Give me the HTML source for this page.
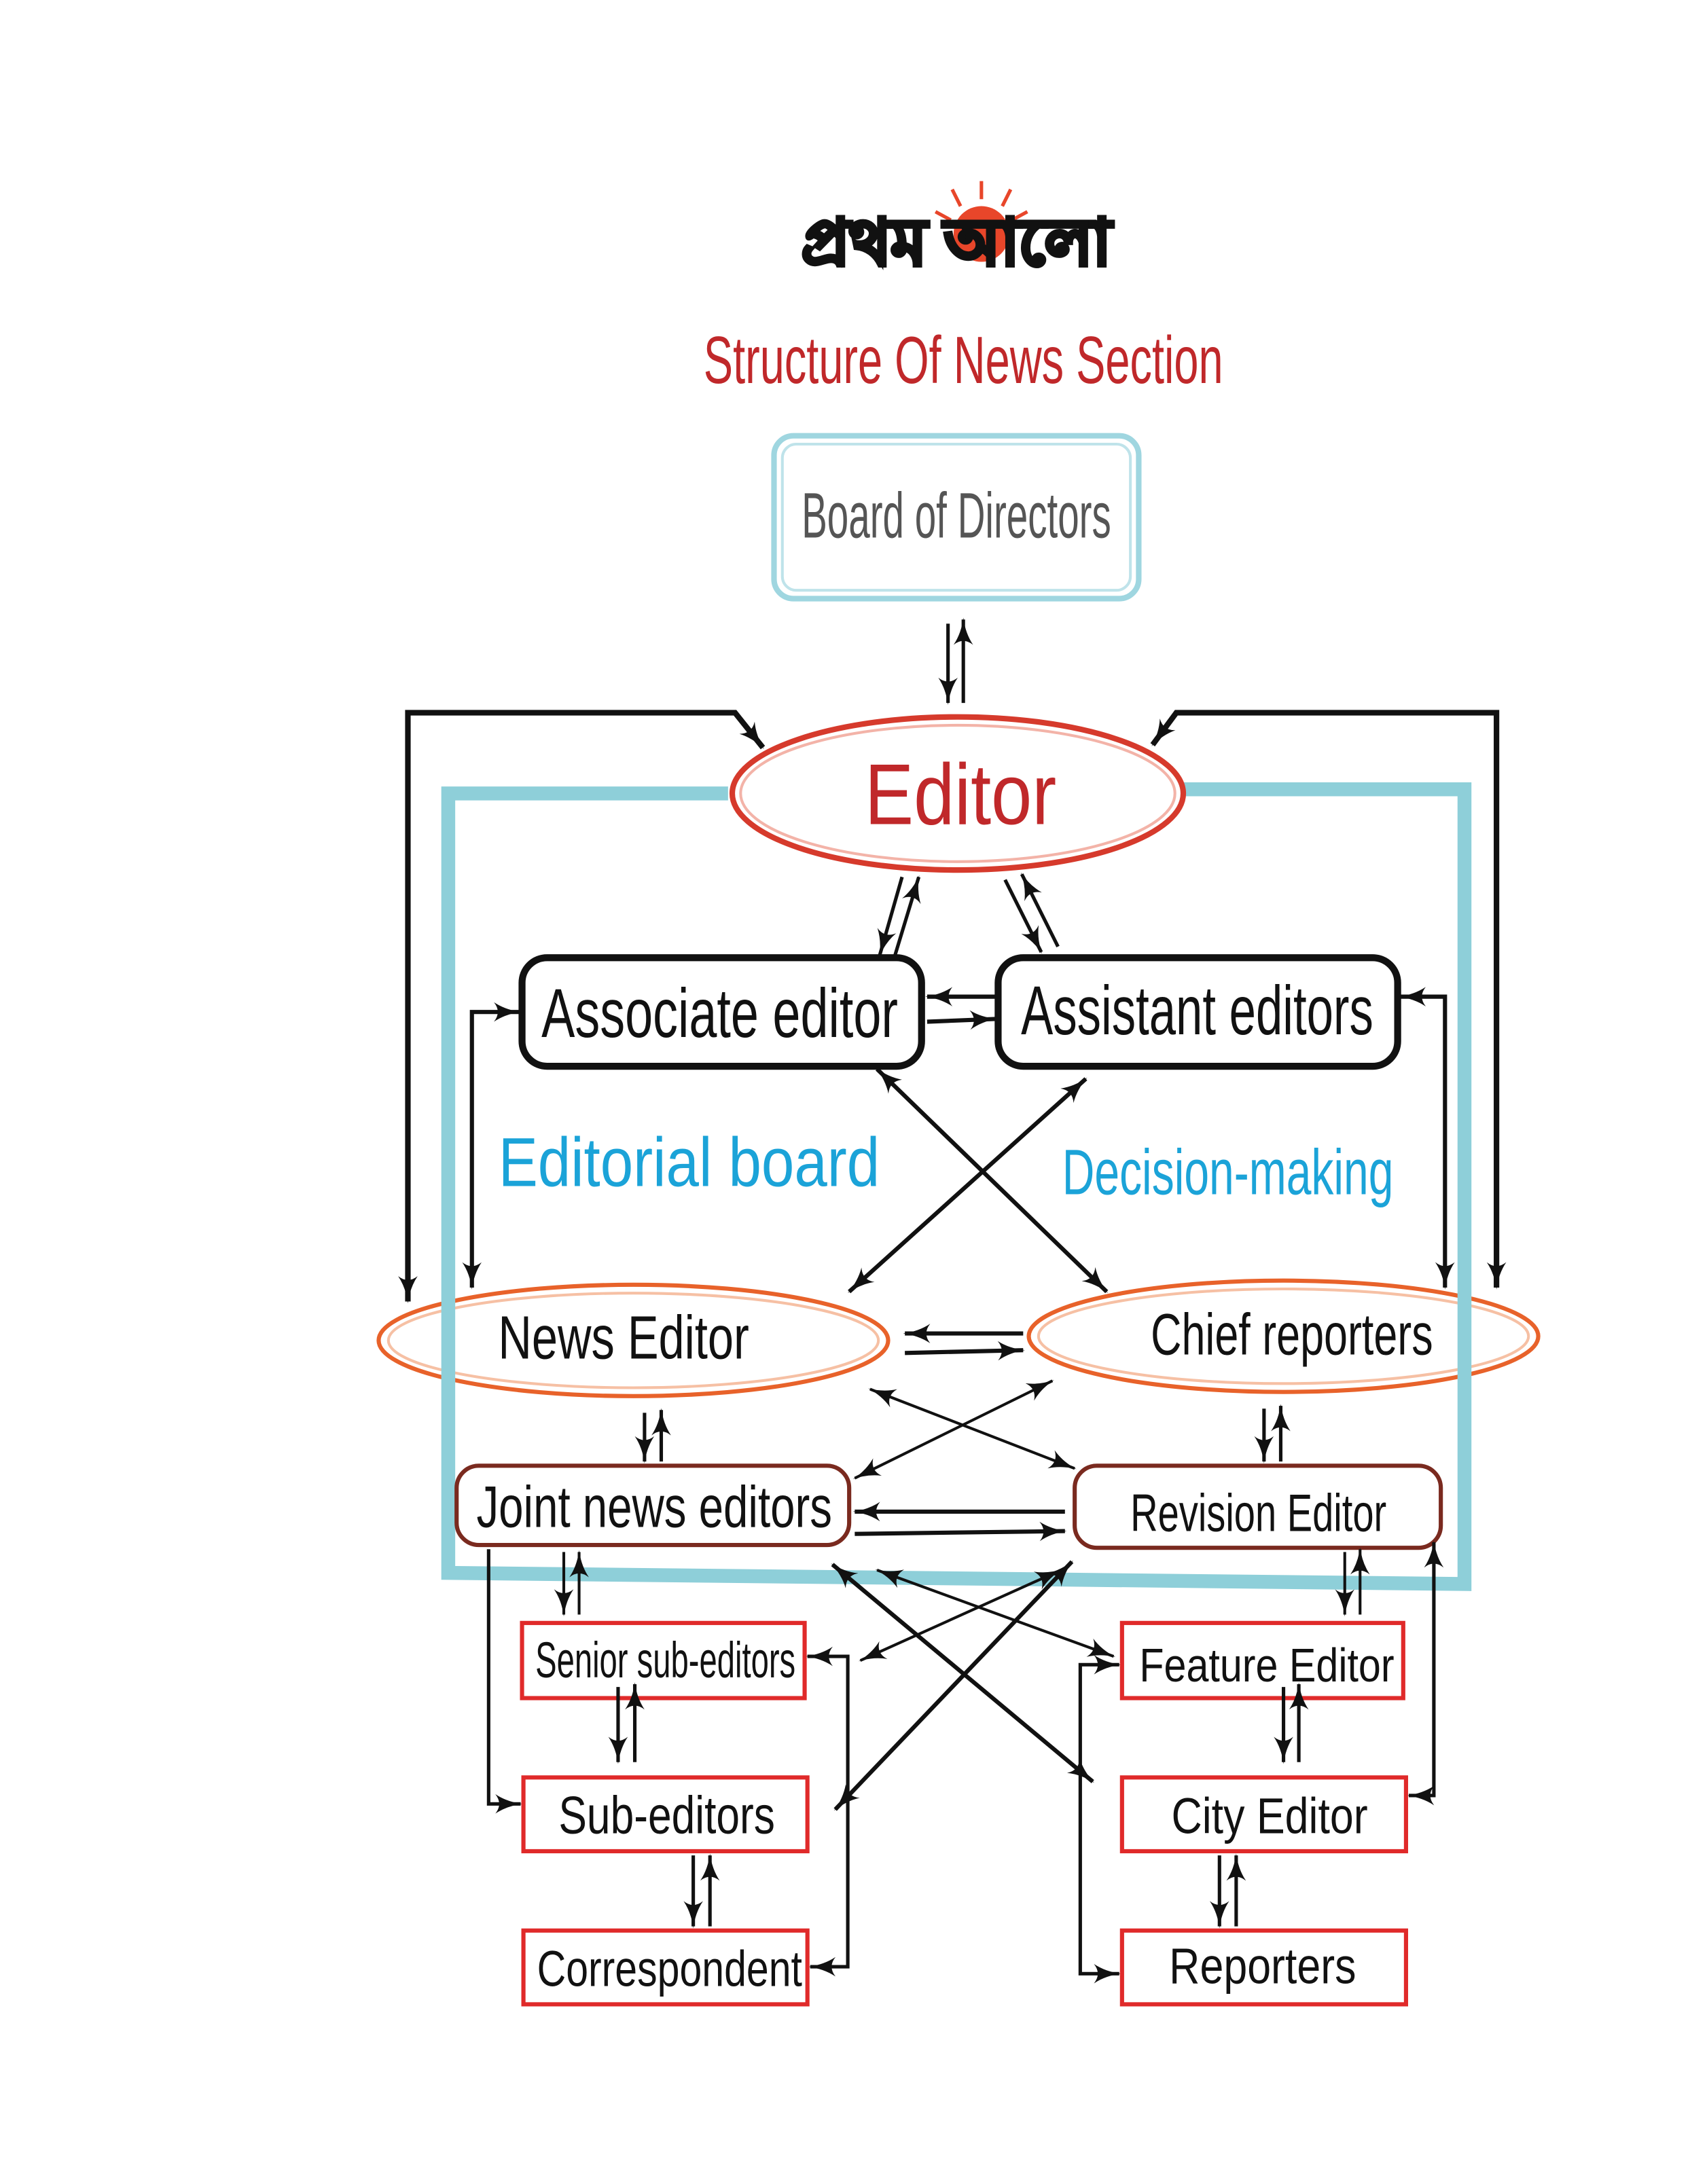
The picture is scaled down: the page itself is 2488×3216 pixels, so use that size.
<!DOCTYPE html>
<html><head><meta charset="utf-8"><style>
html,body{margin:0;padding:0;background:#fff}
svg{display:block}
text{font-family:"Liberation Sans",sans-serif}
</style></head><body>
<svg width="2488" height="3216" viewBox="0 0 1214 1569" xmlns="http://www.w3.org/2000/svg">
<defs>
<marker id="a" viewBox="0 0 14 10" refX="13" refY="5" markerWidth="20" markerHeight="14" orient="auto-start-reverse" markerUnits="userSpaceOnUse">
<path d="M0,0 Q6,4 14,5 Q6,6 0,10 Q4,5 0,0 z" fill="#111"/>
</marker>
</defs>
<rect width="1214" height="1569" fill="#fff"/>
<!-- logo -->
<circle cx="705" cy="168" r="20" fill="#e8462a"/>
<g stroke="#e8462a" stroke-width="2.5">
<line x1="705" y1="143" x2="705" y2="130"/><line x1="690" y1="148" x2="684" y2="136"/><line x1="720" y1="148" x2="726" y2="136"/><line x1="683" y1="158" x2="672" y2="152"/><line x1="727" y1="158" x2="738" y2="152"/>
</g>
<text x="687" y="190" font-size="46" font-weight="bold" fill="#111" stroke="#111" stroke-width="3" text-anchor="middle" font-family="'Liberation Sans','Noto Sans CJK SC',sans-serif">প্রথম আলো</text>
<!-- title -->
<text x="692" y="275" font-size="48" fill="#c0282a" text-anchor="middle" transform="translate(692,0) scale(0.66,1) translate(-692,0)">Structure Of News Section</text>
<!-- board -->
<rect x="556" y="313" width="262" height="117" rx="14" fill="#fff" stroke="#9fd6e0" stroke-width="4"/>
<rect x="562" y="319" width="250" height="105" rx="10" fill="none" stroke="#bfe3ea" stroke-width="2"/>
<text x="687" y="386" font-size="46" fill="#555" text-anchor="middle" transform="translate(687,0) scale(0.6,1) translate(-687,0)">Board of Directors</text>
<!-- board-editor arrows -->
<line x1="681" y1="448" x2="681" y2="505" stroke="#111" stroke-width="2.5" marker-end="url(#a)"/>
<line x1="692" y1="505" x2="692" y2="445" stroke="#111" stroke-width="2.5" marker-end="url(#a)"/>
<!-- outer black loops -->
<polyline points="548,537 528,512 293,512 293,935" fill="none" stroke="#111" stroke-width="4" marker-end="url(#a)" marker-start="url(#a)"/>
<polyline points="1075,925 1075,512 845,512 828,535" fill="none" stroke="#111" stroke-width="4" marker-end="url(#a)" marker-start="url(#a)"/>
<!-- editor to associate/assistant -->
<line x1="648" y1="630" x2="632" y2="686" stroke="#111" stroke-width="2.5" marker-end="url(#a)"/>
<line x1="643" y1="686" x2="660" y2="630" stroke="#111" stroke-width="2.5" marker-end="url(#a)"/>
<line x1="722" y1="632" x2="748" y2="684" stroke="#111" stroke-width="2.5" marker-end="url(#a)"/>
<line x1="760" y1="680" x2="734" y2="628" stroke="#111" stroke-width="2.5" marker-end="url(#a)"/>
<!-- associate & assistant -->
<rect x="375" y="688" width="287" height="78" rx="18" fill="#fff" stroke="#111" stroke-width="5"/>
<text x="517" y="745" font-size="50" fill="#111" text-anchor="middle" transform="translate(517,0) scale(0.72,1) translate(-517,0)">Associate editor</text>
<rect x="717" y="688" width="287" height="78" rx="18" fill="#fff" stroke="#111" stroke-width="5"/>
<text x="860" y="743" font-size="50" fill="#111" text-anchor="middle" transform="translate(860,0) scale(0.69,1) translate(-860,0)">Assistant editors</text>
<line x1="715" y1="716" x2="666" y2="716" stroke="#111" stroke-width="3" marker-end="url(#a)"/>
<line x1="666" y1="734" x2="715" y2="732" stroke="#111" stroke-width="3" marker-end="url(#a)"/>
<!-- side verticals -->
<polyline points="339,925 339,727 373,727" fill="none" stroke="#111" stroke-width="3" marker-end="url(#a)" marker-start="url(#a)"/>
<polyline points="1038,925 1038,716 1006,716" fill="none" stroke="#111" stroke-width="3" marker-end="url(#a)" marker-start="url(#a)"/>
<!-- labels -->
<text x="495" y="852" font-size="50" fill="#1ba3d8" text-anchor="middle" transform="translate(495,0) scale(0.85,1) translate(-495,0)">Editorial board</text>
<text x="882" y="858" font-size="46" fill="#1ba3d8" text-anchor="middle" transform="translate(882,0) scale(0.7,1) translate(-882,0)">Decision-making</text>
<!-- X arrows -->
<line x1="630" y1="768" x2="795" y2="928" stroke="#111" stroke-width="3" marker-end="url(#a)" marker-start="url(#a)"/>
<line x1="780" y1="775" x2="610" y2="928" stroke="#111" stroke-width="3" marker-end="url(#a)" marker-start="url(#a)"/>
<!-- news & chief ellipses -->
<ellipse cx="455" cy="963" rx="183" ry="40" fill="#fff" stroke="#e8622a" stroke-width="3"/>
<ellipse cx="455" cy="963" rx="176" ry="34" fill="none" stroke="#f6c0a4" stroke-width="2"/>
<text x="448" y="976" font-size="44" fill="#111" text-anchor="middle" transform="translate(448,0) scale(0.76,1) translate(-448,0)">News Editor</text>
<ellipse cx="922" cy="960" rx="183" ry="40" fill="#fff" stroke="#e8622a" stroke-width="3"/>
<ellipse cx="922" cy="960" rx="176" ry="34" fill="none" stroke="#f6c0a4" stroke-width="2"/>
<text x="928" y="973" font-size="42" fill="#111" text-anchor="middle" transform="translate(928,0) scale(0.73,1) translate(-928,0)">Chief reporters</text>
<line x1="735" y1="958" x2="650" y2="958" stroke="#111" stroke-width="3" marker-end="url(#a)"/>
<line x1="650" y1="972" x2="735" y2="970" stroke="#111" stroke-width="3" marker-end="url(#a)"/>
<!-- blue frame -->
<polyline points="523,570 322,570 322,1130 1052,1138 1052,567 850,567" fill="none" stroke="#8ecfd9" stroke-width="10"/>
<!-- editor -->
<ellipse cx="688" cy="570" rx="162" ry="55" fill="#fff" stroke="#d63a2c" stroke-width="4"/>
<ellipse cx="688" cy="570" rx="156" ry="49" fill="none" stroke="#f3b3a8" stroke-width="2"/>
<text x="690" y="592" font-size="62" fill="#c0282a" text-anchor="middle" transform="translate(690,0) scale(0.85,1) translate(-690,0)">Editor</text>
<!-- mid X -->
<line x1="625" y1="998" x2="772" y2="1055" stroke="#111" stroke-width="2" marker-end="url(#a)" marker-start="url(#a)"/>
<line x1="756" y1="992" x2="614" y2="1062" stroke="#111" stroke-width="2" marker-end="url(#a)" marker-start="url(#a)"/>
<!-- vertical pairs -->
<line x1="463" y1="1015" x2="463" y2="1050" stroke="#111" stroke-width="2.5" marker-end="url(#a)"/>
<line x1="475" y1="1050" x2="475" y2="1013" stroke="#111" stroke-width="2.5" marker-end="url(#a)"/>
<line x1="908" y1="1012" x2="908" y2="1050" stroke="#111" stroke-width="2.5" marker-end="url(#a)"/>
<line x1="920" y1="1050" x2="920" y2="1010" stroke="#111" stroke-width="2.5" marker-end="url(#a)"/>
<!-- joint & revision -->
<rect x="328" y="1053" width="282" height="57" rx="16" fill="#fff" stroke="#7a2a1f" stroke-width="3"/>
<text x="470" y="1097" font-size="42" fill="#111" text-anchor="middle" transform="translate(470,0) scale(0.76,1) translate(-470,0)">Joint news editors</text>
<rect x="772" y="1053" width="263" height="59" rx="16" fill="#fff" stroke="#7a2a1f" stroke-width="3"/>
<text x="904" y="1100" font-size="38" fill="#111" text-anchor="middle" transform="translate(904,0) scale(0.72,1) translate(-904,0)">Revision Editor</text>
<line x1="765" y1="1086" x2="614" y2="1086" stroke="#111" stroke-width="3" marker-end="url(#a)"/>
<line x1="614" y1="1102" x2="765" y2="1100" stroke="#111" stroke-width="3" marker-end="url(#a)"/>
<!-- lower crossings -->
<line x1="598" y1="1124" x2="785" y2="1280" stroke="#111" stroke-width="3" marker-end="url(#a)" marker-start="url(#a)"/>
<line x1="770" y1="1122" x2="600" y2="1300" stroke="#111" stroke-width="3" marker-end="url(#a)" marker-start="url(#a)"/>
<line x1="630" y1="1128" x2="800" y2="1190" stroke="#111" stroke-width="2" marker-end="url(#a)" marker-start="url(#a)"/>
<line x1="762" y1="1128" x2="618" y2="1193" stroke="#111" stroke-width="2" marker-end="url(#a)" marker-start="url(#a)"/>
<!-- small verticals -->
<line x1="405" y1="1115" x2="405" y2="1160" stroke="#111" stroke-width="2" marker-end="url(#a)"/>
<line x1="416" y1="1160" x2="416" y2="1115" stroke="#111" stroke-width="2" marker-end="url(#a)"/>
<line x1="966" y1="1115" x2="966" y2="1160" stroke="#111" stroke-width="2" marker-end="url(#a)"/>
<line x1="977" y1="1160" x2="977" y2="1113" stroke="#111" stroke-width="2" marker-end="url(#a)"/>
<!-- left/right connectors -->
<polyline points="351,1113 351,1296 374,1296" fill="none" stroke="#111" stroke-width="2.5" marker-end="url(#a)"/>
<polyline points="1030,1108 1030,1290 1012,1290" fill="none" stroke="#111" stroke-width="2.5" marker-start="url(#a)" marker-end="url(#a)"/>
<polyline points="580,1190 609,1190 609,1413 582,1413" fill="none" stroke="#111" stroke-width="2.5" marker-start="url(#a)" marker-end="url(#a)"/>
<polyline points="804,1196 776,1196 776,1418 804,1418" fill="none" stroke="#111" stroke-width="2.5" marker-start="url(#a)" marker-end="url(#a)"/>
<!-- red boxes -->
<g fill="#fff" stroke="#e02a2a" stroke-width="3">
<rect x="375" y="1166" width="203" height="54"/>
<rect x="376" y="1277" width="204" height="53"/>
<rect x="376" y="1387" width="204" height="53"/>
<rect x="806" y="1166" width="202" height="54"/>
<rect x="806" y="1277" width="204" height="53"/>
<rect x="806" y="1387" width="204" height="53"/>
</g>
<g fill="#111" text-anchor="middle">
<text x="478" y="1205" font-size="36" transform="translate(478,0) scale(0.64,1) translate(-478,0)">Senior sub-editors</text>
<text x="479" y="1317" font-size="38" transform="translate(479,0) scale(0.8,1) translate(-479,0)">Sub-editors</text>
<text x="481" y="1427" font-size="36" transform="translate(481,0) scale(0.8,1) translate(-481,0)">Correspondent</text>
<text x="910" y="1208" font-size="34" transform="translate(910,0) scale(0.85,1) translate(-910,0)">Feature Editor</text>
<text x="912" y="1317" font-size="36" transform="translate(912,0) scale(0.85,1) translate(-912,0)">City Editor</text>
<text x="907" y="1425" font-size="36" transform="translate(907,0) scale(0.85,1) translate(-907,0)">Reporters</text>
</g>
<!-- box verticals -->
<line x1="444" y1="1212" x2="444" y2="1266" stroke="#111" stroke-width="2.5" marker-end="url(#a)"/>
<line x1="456" y1="1266" x2="456" y2="1210" stroke="#111" stroke-width="2.5" marker-end="url(#a)"/>
<line x1="498" y1="1333" x2="498" y2="1384" stroke="#111" stroke-width="2.5" marker-end="url(#a)"/>
<line x1="510" y1="1384" x2="510" y2="1333" stroke="#111" stroke-width="2.5" marker-end="url(#a)"/>
<line x1="922" y1="1212" x2="922" y2="1266" stroke="#111" stroke-width="2.5" marker-end="url(#a)"/>
<line x1="933" y1="1266" x2="933" y2="1210" stroke="#111" stroke-width="2.5" marker-end="url(#a)"/>
<line x1="876" y1="1333" x2="876" y2="1384" stroke="#111" stroke-width="2.5" marker-end="url(#a)"/>
<line x1="888" y1="1384" x2="888" y2="1333" stroke="#111" stroke-width="2.5" marker-end="url(#a)"/>
</svg>
</body></html>
